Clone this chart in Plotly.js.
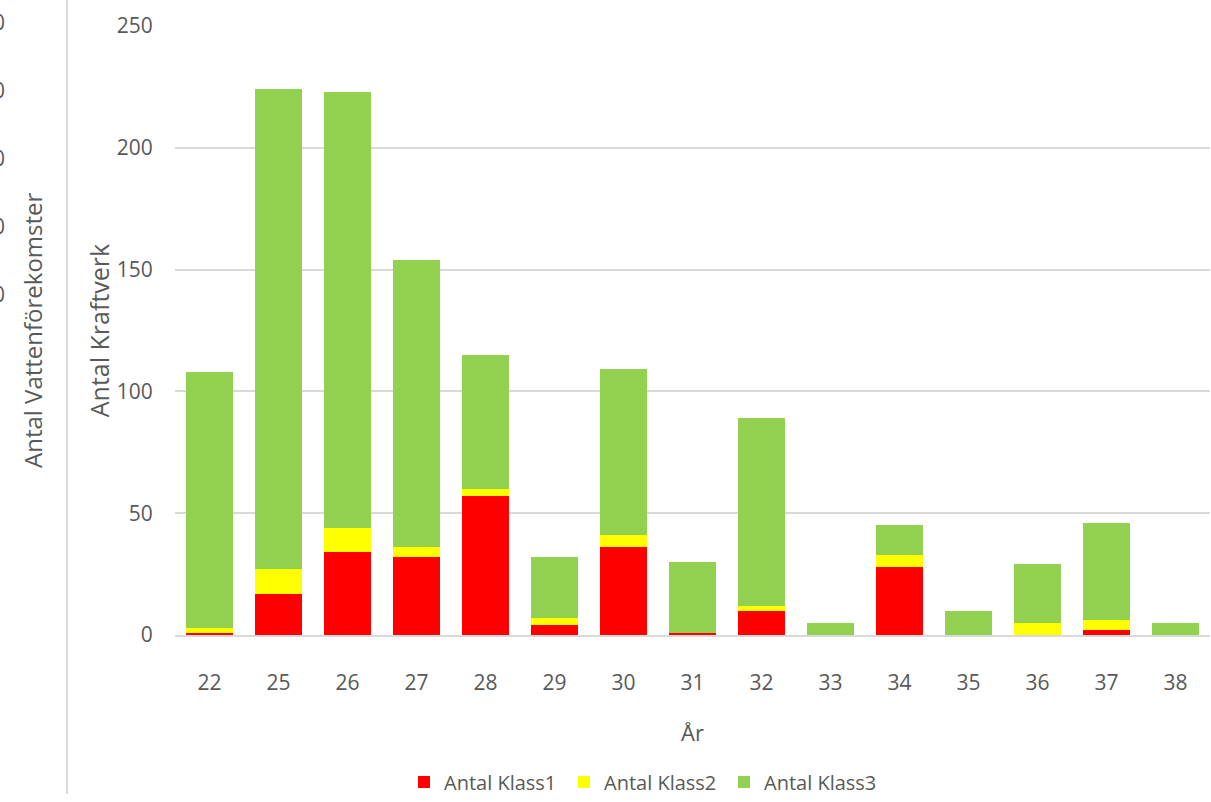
<!DOCTYPE html>
<html>
<head>
<meta charset="utf-8">
<script src="https://cdn.plot.ly/plotly-3.0.1.min.js"></script>
<style>html,body{margin:0;padding:0;background:#fff;overflow:hidden;}#chart{width:1211px;height:802px;}</style>
</head>
<body>
<div id="chart"></div>
<script>
const years = ["22","25","26","27","28","29","30","31","32","33","34","35","36","37","38"];
const klass1 = [1, 17, 34, 32, 57, 4, 36, 1, 10, 0, 28, 0, 0, 2, 0];
const klass2 = [2, 10, 10, 4, 3, 3, 5, 0, 2, 0, 5, 0, 5, 4, 0];
const klass3 = [105, 197, 179, 118, 55, 25, 68, 29, 77, 5, 12, 10, 24, 40, 5];
const seriesNames = ["Antal Klass1", "Antal Klass2", "Antal Klass3"];
const seriesColors = ["#FF0000", "#FFFF00", "#92D050"];
const yTicks = [0, 50, 100, 150, 200, 250];
const leftAxisTitle = "Antal Vattenförekomster";
const leftAxisStubs = ["0", "0", "0", "0", "0"];

const W = 1211, H = 802;
const L = 175, R = 1210, T = 26, B = 643;
const pw = R - L, ph = B - T;
const px = x => (x - L) / pw;
const py = y => (B - y) / ph;

const tickFont = {family: "Open Sans, sans-serif", size: 21, color: "#595959"};
const titleFont = {family: "Open Sans, sans-serif", size: 25, color: "#595959"};

const traces = [klass1, klass2, klass3].map((vals, i) => ({
  type: "bar",
  x: years,
  y: vals,
  name: seriesNames[i],
  marker: {color: seriesColors[i], line: {width: 0}},
  hoverinfo: "x+y+name"
}));

const stubY = [22, 91, 160, 229, 298];
const annotations = leftAxisStubs.map((t, i) => ({
  xref: "paper", yref: "paper", x: px(7), y: py(stubY[i]),
  xanchor: "right", yanchor: "middle", text: t, showarrow: false, font: tickFont
}));
annotations.push({
  xref: "paper", yref: "paper", x: px(32), y: py(334),
  xanchor: "center", yanchor: "middle", text: leftAxisTitle, textangle: -90,
  showarrow: false, font: {family: "Open Sans, sans-serif", size: 24, color: "#595959"}
});

const layout = {
  width: W, height: H,
  margin: {l: L, r: W - R, t: T, b: H - B, pad: 0},
  paper_bgcolor: "#ffffff", plot_bgcolor: "#ffffff",
  barmode: "stack", bargap: 0.333,
  showlegend: true,
  legend: {
    orientation: "h", xref: "paper", yref: "paper",
    x: px(404), xanchor: "left", y: py(792), yanchor: "middle",
    font: {family: "Open Sans, sans-serif", size: 20, color: "#595959"},
    entrywidth: 115, entrywidthmode: "pixels", traceorder: "normal",
    bgcolor: "rgba(0,0,0,0)", itemclick: false
  },
  xaxis: {
    type: "category", categoryorder: "array", categoryarray: years,
    tickfont: tickFont, ticks: "outside", ticklen: 28, tickcolor: "rgba(0,0,0,0)",
    showline: true, linecolor: "#d9d9d9", linewidth: 2,
    showgrid: false, automargin: false,
    title: {text: "År", font: {family: "Open Sans, sans-serif", size: 22, color: "#595959"}, standoff: 30}
  },
  yaxis: {
    range: [0, 250], tickvals: yTicks, ticktext: yTicks.map(String),
    tickfont: tickFont, ticks: "outside", ticklen: 17, tickcolor: "rgba(0,0,0,0)",
    showgrid: true, gridcolor: "#d9d9d9", gridwidth: 1.5,
    zeroline: false, showline: false, automargin: false,
    title: {text: "Antal Kraftverk", font: titleFont, standoff: 0}
  },
  shapes: [{
    type: "line", xref: "paper", yref: "paper",
    x0: px(67), x1: px(67), y0: py(-2), y1: py(804),
    line: {color: "#d9d9d9", width: 2}
  }],
  annotations: annotations
};

Plotly.newPlot("chart", traces, layout, {displayModeBar: false, staticPlot: false});
</script>
</body>
</html>
